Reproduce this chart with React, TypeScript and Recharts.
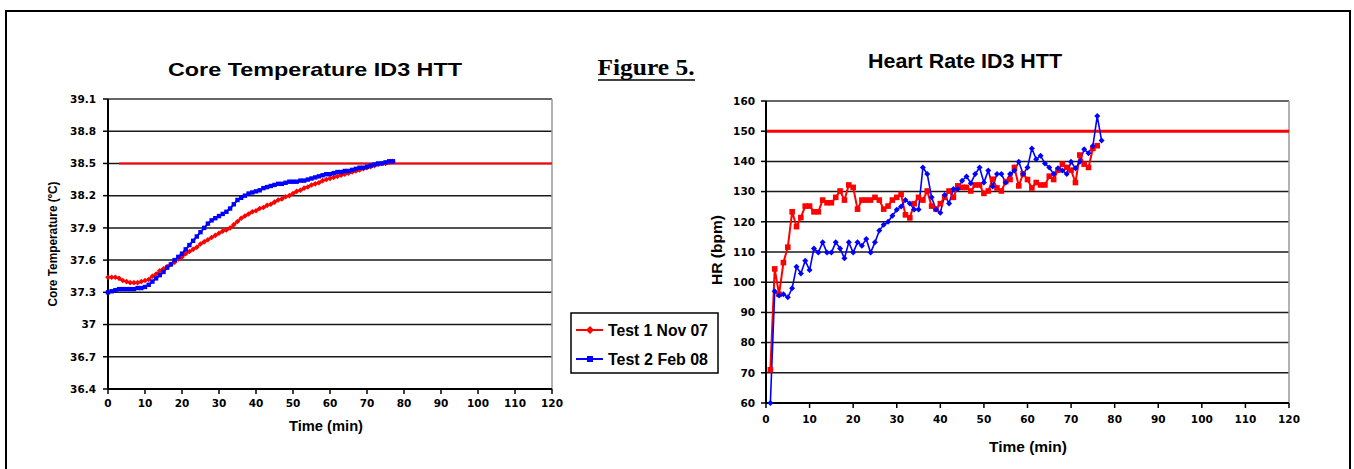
import React from 'react';
import { LineChart, Line, XAxis, YAxis, CartesianGrid, ReferenceLine } from 'recharts';

// minutes since start of the heat tolerance test
const minutes = [
  0, 1, 2, 3, 4, 5, 6, 7, 8, 9, 10, 11, 12, 13, 14, 15, 16, 17, 18, 19,
  20, 21, 22, 23, 24, 25, 26, 27, 28, 29, 30, 31, 32, 33, 34, 35, 36, 37, 38, 39,
  40, 41, 42, 43, 44, 45, 46, 47, 48, 49, 50, 51, 52, 53, 54, 55, 56, 57, 58, 59,
  60, 61, 62, 63, 64, 65, 66, 67, 68, 69, 70, 71, 72, 73, 74, 75, 76, 77,
];

// core temperature (ºC)
const coreTest1 = [
  37.44, 37.44, 37.44, 37.43, 37.41, 37.4, 37.39, 37.39, 37.39, 37.4,
  37.41, 37.42, 37.45, 37.47, 37.5, 37.52, 37.54, 37.56, 37.58, 37.61,
  37.63, 37.66, 37.68, 37.7, 37.72, 37.75, 37.77, 37.79, 37.81, 37.83,
  37.85, 37.87, 37.88, 37.9, 37.93, 37.96, 37.99, 38.01, 38.03, 38.05,
  38.06, 38.08, 38.09, 38.11, 38.12, 38.14, 38.16, 38.17, 38.19, 38.2,
  38.22, 38.24, 38.25, 38.27, 38.28, 38.3, 38.31, 38.32, 38.34, 38.35,
  38.36, 38.37, 38.38, 38.39, 38.4, 38.41, 38.42, 38.43, 38.44, 38.45,
  38.46, 38.47, 38.48, 38.49, 38.5, 38.5, 38.51, 38.52,
];
const coreTest2 = [
  37.3, 37.31, 37.32, 37.33, 37.33, 37.33, 37.33, 37.33, 37.34, 37.34,
  37.35, 37.37, 37.4, 37.43, 37.46, 37.49, 37.53, 37.56, 37.6, 37.63,
  37.66, 37.7, 37.74, 37.78, 37.82, 37.86, 37.9, 37.94, 37.97, 37.99,
  38.01, 38.03, 38.05, 38.08, 38.12, 38.16, 38.18, 38.2, 38.22, 38.23,
  38.24, 38.25, 38.27, 38.28, 38.29, 38.3, 38.31, 38.31, 38.32, 38.33,
  38.33, 38.33, 38.34, 38.34, 38.35, 38.36, 38.37, 38.38, 38.39, 38.4,
  38.4, 38.41, 38.42, 38.42, 38.43, 38.43, 38.44, 38.45, 38.46, 38.46,
  38.47, 38.48, 38.49, 38.5, 38.5, 38.51, 38.52, 38.52,
];
const coreTicks = [36.4, 36.7, 37, 37.3, 37.6, 37.9, 38.2, 38.5, 38.8, 39.1];
const coreLimit = 38.5;
const coreLimitFrom = 3;

// heart rate (bpm)
const hrTest1 = [
  null, 71, 104.4, 96, 106.5, 111.6, 123.3, 118.4, 121.4, 125.2,
  125.2, 123.3, 123.3, 127.2, 126.3, 126.3, 128.1, 130.2, 127.2, 132.2,
  131.4, 124.2, 127.2, 127.2, 127.2, 128.1, 127.2, 124.2, 125.2, 127.2,
  128.1, 129.1, 122.3, 121.3, 126, 128.1, 127.2, 130.2, 125.2, 124.2,
  126, 128.1, 130.2, 128.1, 131.9, 131.4, 131.4, 130.2, 132.2, 132.2,
  129.4, 130.2, 134.1, 131.2, 130.2, 133.3, 134, 138, 131.9, 135.9,
  134, 131.2, 133, 132.2, 132.2, 135.1, 134, 137.1, 139.1, 138,
  137.1, 133, 142.1, 139.1, 138, 144.3, 145.2, null,
];
const hrTest2 = [
  null, 60, 97, 95.6, 96, 95, 98, 105.1, 102.9, 107.1,
  104, 111.2, 109.8, 113.2, 109.8, 109.8, 113.2, 111.2, 107.9, 113.2,
  109.8, 113.2, 112.1, 114.3, 109.8, 113.2, 117.1, 119, 120, 122,
  124, 125.1, 127.2, 126.1, 124.1, 124.1, 138, 135.8, 128.1, 124.1,
  123, 128.9, 126.1, 130.9, 130.9, 133.6, 135, 132.8, 135.8, 138,
  133, 137, 131.7, 135.8, 135.8, 133, 135.8, 137, 139.9, 135.8,
  138, 144.3, 140.7, 141.9, 139.3, 138, 135.8, 137.7, 137, 135.8,
  139.9, 137.7, 139.9, 144, 142.7, 145.1, 155, 146.9,
];
const hrTicks = [60, 70, 80, 90, 100, 110, 120, 130, 140, 150, 160];
const hrLimit = 150;

const timeTicks = [0, 10, 20, 30, 40, 50, 60, 70, 80, 90, 100, 110, 120];

const coreData = minutes.map((t, i) => ({ t, test1: coreTest1[i], test2: coreTest2[i] }));
const hrData = minutes.map((t, i) => ({ t, test1: hrTest1[i], test2: hrTest2[i] }));

const RED = '#ff0000';
const BLUE = '#0000ff';
const tickFont = { fontFamily: 'DejaVu Sans', fontWeight: 'bold', fontSize: 10.5, fill: '#000' };

const diamondDot = (color: string, r: number) => (props: any) => {
  const { cx, cy, index } = props;
  if (cx == null || cy == null || Number.isNaN(cy)) return <g key={`d${index}`} />;
  return (
    <polygon
      key={`d${index}`}
      points={`${cx},${cy - r} ${cx + r},${cy} ${cx},${cy + r} ${cx - r},${cy}`}
      fill={color}
      stroke="none"
    />
  );
};

const squareDot = (color: string, r: number) => (props: any) => {
  const { cx, cy, index } = props;
  if (cx == null || cy == null || Number.isNaN(cy)) return <g key={`s${index}`} />;
  return <rect key={`s${index}`} x={cx - r} y={cy - r} width={r * 2} height={r * 2} fill={color} />;
};

const CoreChart = () => (
  <LineChart width={600} height={440} data={coreData} margin={{ top: 99, right: 48, bottom: 21, left: 48 }}>
    <CartesianGrid horizontal vertical={false} stroke="#1a1a1a" strokeWidth={1.5} />
    <ReferenceLine y={39.1} stroke="#666" strokeWidth={2} />
    <ReferenceLine x={120} stroke="#999" strokeWidth={1.5} />
    <XAxis
      type="number"
      dataKey="t"
      domain={[0, 120]}
      ticks={timeTicks}
      interval={0}
      height={30}
      tick={tickFont}
      tickSize={5}
      tickMargin={6}
      axisLine={{ stroke: '#000', strokeWidth: 2 }}
      tickLine={{ stroke: '#000', strokeWidth: 1.5 }}
    />
    <YAxis
      type="number"
      domain={[36.4, 39.1]}
      ticks={coreTicks}
      interval={0}
      width={60}
      tick={tickFont}
      tickSize={5}
      tickMargin={7}
      axisLine={{ stroke: '#000', strokeWidth: 2 }}
      tickLine={{ stroke: '#000', strokeWidth: 1.5 }}
    />
    <ReferenceLine
      segment={[{ x: coreLimitFrom, y: coreLimit }, { x: 120, y: coreLimit }]}
      stroke={RED}
      strokeWidth={2}
    />
    <Line dataKey="test1" stroke={RED} strokeWidth={2} dot={diamondDot(RED, 2.8)} isAnimationActive={false} />
    <Line dataKey="test2" stroke={BLUE} strokeWidth={2} dot={squareDot(BLUE, 2.2)} isAnimationActive={false} />
  </LineChart>
);

const HrChart = () => (
  <LineChart width={640} height={460} data={hrData} margin={{ top: 101, right: 51, bottom: 27, left: 6 }}>
    <CartesianGrid horizontal vertical={false} stroke="#1a1a1a" strokeWidth={1.5} />
    <ReferenceLine y={160} stroke="#666" strokeWidth={2} />
    <ReferenceLine x={120} stroke="#999" strokeWidth={1.5} />
    <XAxis
      type="number"
      dataKey="t"
      domain={[0, 120]}
      ticks={timeTicks}
      interval={0}
      height={30}
      tick={tickFont}
      tickSize={5}
      tickMargin={8}
      axisLine={{ stroke: '#000', strokeWidth: 2 }}
      tickLine={{ stroke: '#000', strokeWidth: 1.5 }}
    />
    <YAxis
      type="number"
      domain={[60, 160]}
      ticks={hrTicks}
      interval={0}
      width={60}
      tick={tickFont}
      tickSize={5}
      tickMargin={6}
      axisLine={{ stroke: '#000', strokeWidth: 2 }}
      tickLine={{ stroke: '#000', strokeWidth: 1.5 }}
    />
    <ReferenceLine y={hrLimit} stroke={RED} strokeWidth={3} />
    <Line dataKey="test1" stroke={RED} strokeWidth={2} dot={squareDot(RED, 2.8)} isAnimationActive={false} />
    <Line dataKey="test2" stroke={BLUE} strokeWidth={1.6} dot={diamondDot(BLUE, 3)} isAnimationActive={false} />
  </LineChart>
);

const arial = "'Liberation Sans', Arial, sans-serif";
const narrow = "'Liberation Sans Narrow', 'Liberation Sans', Arial, sans-serif";

const Overlay = () => (
  <svg width={1354} height={469} style={{ position: 'absolute', left: 0, top: 0, pointerEvents: 'none' }}>
    <rect x={6} y={11} width={1344} height={470} fill="none" stroke="#000" strokeWidth={2} />
    <text x={315} y={76} textAnchor="middle" fontFamily={arial} fontWeight="bold" fontSize={19} textLength={294} lengthAdjust="spacingAndGlyphs">
      Core Temperature ID3 HTT
    </text>
    <text x={965} y={68} textAnchor="middle" fontFamily={arial} fontWeight="bold" fontSize={21} textLength={194} lengthAdjust="spacingAndGlyphs">
      Heart Rate ID3 HTT
    </text>
    <text x={646} y={75} textAnchor="middle" fontFamily="'Liberation Serif', 'Times New Roman', serif" fontWeight="bold" fontSize={24} textLength={97} lengthAdjust="spacingAndGlyphs">
      Figure 5.
    </text>
    <line x1={598} x2={695} y1={80} y2={80} stroke="#000" strokeWidth={1.5} />
    <text transform="translate(57,244) rotate(-90)" textAnchor="middle" fontFamily={narrow} fontWeight="bold" fontSize={13} textLength={125} lengthAdjust="spacingAndGlyphs">
      Core Temperature (ºC)
    </text>
    <text transform="translate(722,250) rotate(-90)" textAnchor="middle" fontFamily={arial} fontWeight="bold" fontSize={15} textLength={70} lengthAdjust="spacingAndGlyphs">
      HR (bpm)
    </text>
    <text x={326} y={431} textAnchor="middle" fontFamily={arial} fontWeight="bold" fontSize={14} textLength={74} lengthAdjust="spacingAndGlyphs">
      Time (min)
    </text>
    <text x={1028} y={452} textAnchor="middle" fontFamily={arial} fontWeight="bold" fontSize={15} textLength={78} lengthAdjust="spacingAndGlyphs">
      Time (min)
    </text>
    <rect x={571} y={313} width={147} height={60} fill="#fff" stroke="#000" strokeWidth={1.5} />
    <line x1={576} x2={603} y1={330} y2={330} stroke={RED} strokeWidth={2} />
    <polygon points="590,326 594,330 590,334 586,330" fill={RED} />
    <text x={608} y={336} fontFamily={narrow} fontWeight="bold" fontSize={16} textLength={100} lengthAdjust="spacingAndGlyphs">
      Test 1 Nov 07
    </text>
    <line x1={576} x2={603} y1={359} y2={359} stroke={BLUE} strokeWidth={2} />
    <rect x={587} y={356} width={6} height={6} fill={BLUE} />
    <text x={608} y={365} fontFamily={narrow} fontWeight="bold" fontSize={16} textLength={100} lengthAdjust="spacingAndGlyphs">
      Test 2 Feb 08
    </text>
  </svg>
);

export default function App() {
  return (
    <div style={{ position: 'absolute', left: 0, top: 0, width: 1354, height: 469, background: '#fff', overflow: 'hidden' }}>
      <div style={{ position: 'absolute', left: 0, top: 0 }}>
        <CoreChart />
      </div>
      <div style={{ position: 'absolute', left: 700, top: 0 }}>
        <HrChart />
      </div>
      <Overlay />
    </div>
  );
}
